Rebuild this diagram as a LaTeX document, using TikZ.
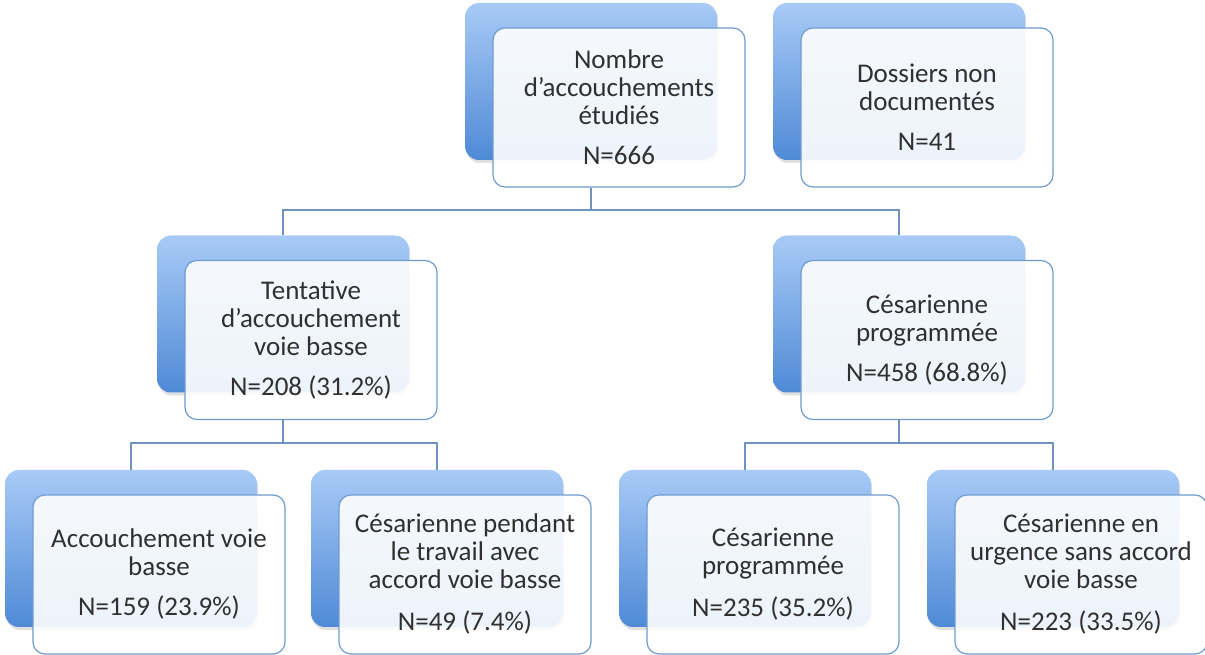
\documentclass[tikz,border=0pt]{standalone}
\usepackage{fontspec}
\setmainfont{Carlito}
\usetikzlibrary{shadows}
\definecolor{boxline}{HTML}{6F9BD1}
\definecolor{backtop}{HTML}{A8CAF6}
\definecolor{backbot}{HTML}{4F8AD6}
\definecolor{joinline}{HTML}{6F93C0}
\definecolor{txt}{HTML}{303030}

\begin{document}
\begin{tikzpicture}[x=1pt,y=1pt,
    back/.style={rectangle, rounded corners=14pt, minimum width=252pt, minimum height=157pt,
      top color=backtop, bottom color=backbot,
      drop shadow={shadow xshift=1pt, shadow yshift=-3pt, opacity=0.25}},
    front/.style={rectangle, rounded corners=12pt, minimum width=252pt, minimum height=159pt,
      draw=boxline, line width=1.2pt, fill=white, fill opacity=0.9, text opacity=1,
      text=txt, align=center, font=\fontsize{27}{28}\selectfont},
    link/.style={draw=joinline, line width=1.5pt}]
          \useasboundingbox (0,0) rectangle (1205,655);

          \node[back] (rootb) at (591,573.5) {};
          \node[back] (dossb) at (899,573.5) {};
          \node[back] (tvbb) at (283,341) {};
          \node[back] (cpb) at (899,341) {};
          \node[back] (avbb) at (131,106.5) {};
          \node[back] (cptb) at (437,106.5) {};
          \node[back] (cprb) at (745,106.5) {};
          \node[back] (cusb) at (1053,106.5) {};

          \node[front] (root) at (619,547.5) {Nombre\\d’accouchements\\étudiés\\[12pt]N=666};
          \node[front] (doss) at (927,547.5) {Dossiers non\\documentés\\[12pt]N=41};
          \node[front] (tvb) at (311,315) {Tentative\\d’accouchement\\voie basse\\[12pt]N=208 (31.2\%)};
          \node[front] (cp) at (927,315) {Césarienne\\programmée\\[12pt]N=458 (68.8\%)};
          \node[front] (avb) at (159,80.5) {Accouchement voie\\basse\\[12pt]N=159 (23.9\%)};
          \node[front] (cpt) at (465,80.5) {Césarienne pendant\\le travail avec\\accord voie basse\\[14pt]N=49 (7.4\%)};
          \node[front] (cpr) at (773,80.5) {Césarienne\\programmée\\[14pt]N=235 (35.2\%)};
          \node[front] (cus) at (1081,80.5) {Césarienne en\\urgence sans accord\\voie basse\\[14pt]N=223 (33.5\%)};

          \coordinate (j1) at (591,445);
          \coordinate (j2) at (283,212);
          \coordinate (j3) at (899,212);

          \draw[link] (rootb |- root.south) -- (j1);
          \draw[link] (j1) -| (tvbb.north);
          \draw[link] (j1) -| (cpb.north);
          \draw[link] (tvbb |- tvb.south) -- (j2);
          \draw[link] (j2) -| (avbb.north);
          \draw[link] (j2) -| (cptb.north);
          \draw[link] (cpb |- cp.south) -- (j3);
          \draw[link] (j3) -| (cprb.north);
          \draw[link] (j3) -| (cusb.north);
        \end{tikzpicture}
\end{document}
